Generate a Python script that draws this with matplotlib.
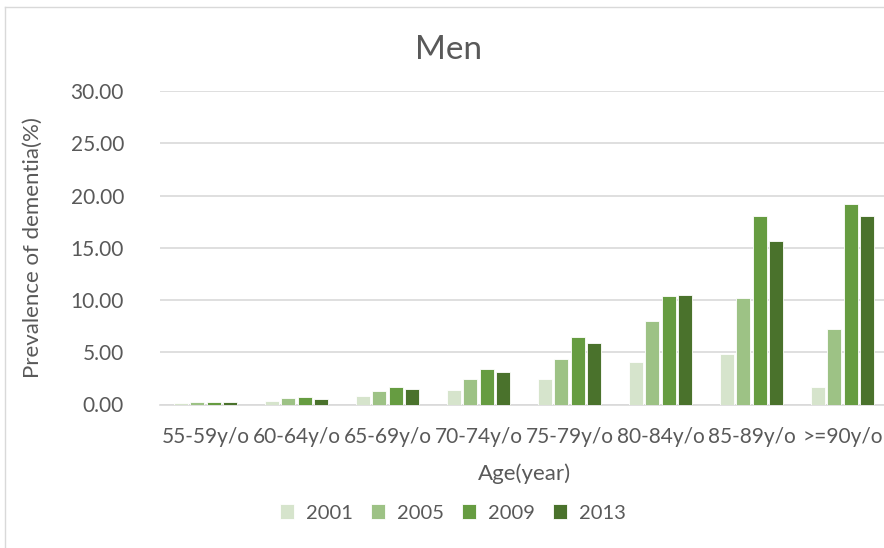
import numpy as np
import matplotlib
matplotlib.use("Agg")
import matplotlib.pyplot as plt
from matplotlib.lines import Line2D

plt.rcParams['font.family'] = ['Lato', 'DejaVu Sans']

# data
age_groups = ['55-59y/o', '60-64y/o', '65-69y/o', '70-74y/o',
              '75-79y/o', '80-84y/o', '85-89y/o', '>=90y/o']
years = ['2001', '2005', '2009', '2013']
prev_2001 = [0.15, 0.30, 0.85, 1.40, 2.45, 4.06, 4.85, 1.66]
prev_2005 = [0.25, 0.65, 1.30, 2.40, 4.40, 7.95, 10.20, 7.20]
prev_2009 = [0.25, 0.75, 1.65, 3.35, 6.50, 10.40, 18.05, 19.20]
prev_2013 = [0.25, 0.55, 1.50, 3.10, 5.90, 10.50, 15.65, 18.00]
colors = ['#D6E4CC', '#9DC285', '#669C41', '#4A722C']

series = [prev_2001, prev_2005, prev_2009, prev_2013]
text_color = '#595959'

fig = plt.figure(figsize=(8.84, 5.48), dpi=100)
ax = fig.add_axes([160/884, 1-404.5/548, 728/884, (404.5-91)/548])

x = np.arange(len(age_groups))
pitch = 0.18
width = 0.155
for i, (vals, yr, col) in enumerate(zip(series, years, colors)):
    ax.bar(x + (i-1.5)*pitch, vals, width, color=col, label=yr,
           edgecolor='white', linewidth=0.6, zorder=3)

ax.set_xlim(-0.5, len(age_groups)-0.5)
ax.set_ylim(0, 30)
ax.set_yticks(np.arange(0, 31, 5))
ax.set_yticklabels([f'{v:.2f}' for v in np.arange(0, 31, 5)])
ax.set_xticks(x)
ax.set_xticklabels(age_groups)
ax.tick_params(length=0, labelsize=15, colors=text_color)
ax.tick_params(axis='y', pad=26)
ax.tick_params(axis='x', pad=16)
ax.yaxis.grid(True, color='#D9D9D9', linewidth=1.2, zorder=0)
for s in ['top', 'right', 'left']:
    ax.spines[s].set_visible(False)
ax.spines['bottom'].set_color('#D9D9D9')
ax.spines['bottom'].set_linewidth(1.2)

ax.set_ylabel('Prevalence of dementia(%)', fontsize=16, color=text_color, labelpad=20)
ax.set_xlabel('Age(year)', fontsize=16, color=text_color, labelpad=12)
fig.text(449/884, 1-50/548, 'Men', ha='center', va='center', fontsize=24, color=text_color)

ax.legend(loc='center', bbox_to_anchor=(453/884, 1-513/548), bbox_transform=fig.transFigure,
          ncol=4, frameon=False, fontsize=14.5, labelcolor=text_color,
          handlelength=0.7, handleheight=0.7, handletextpad=0.6, columnspacing=0.9)

# outer chart frame
fig.add_artist(Line2D([5/884, 5/884], [0, 1-7/548], transform=fig.transFigure,
                      color='#D9D9D9', linewidth=1))
fig.add_artist(Line2D([5/884, 1], [1-7/548, 1-7/548], transform=fig.transFigure,
                      color='#D9D9D9', linewidth=1))

fig.savefig('out.png', dpi=100)
